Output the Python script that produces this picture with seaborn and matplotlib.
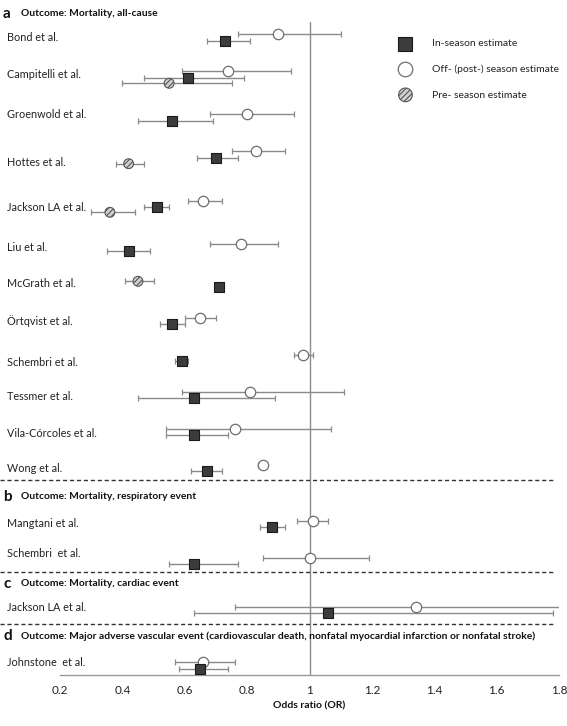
import numpy as np
import pandas as pd
import matplotlib
matplotlib.use("Agg")
import matplotlib.pyplot as plt
import matplotlib.transforms as mtransforms
import seaborn as sns

# ---------------- data ----------------
studies = ["Bond et al.", "Campitelli et al.", "Groenwold et al.", "Hottes et al.",
           "Jackson LA et al.", "Liu et al.", "McGrath et al.", "Örtqvist et al.",
           "Schembri et al.", "Tessmer et al.", "Vila-Córcoles et al.", "Wong et al.",
           "Mangtani et al.", "Schembri  et al.",
           "Jackson LA et al.",
           "Johnstone  et al."]

in_or = [0.73, 0.61, 0.56, 0.70, 0.51, 0.42, 0.71, 0.56, 0.59, 0.63, 0.63, 0.67, 0.88, 0.63, 1.06, 0.65]
in_lo = [0.67, 0.47, 0.45, 0.64, 0.47, 0.35, np.nan, 0.52, 0.57, 0.45, 0.54, 0.62, 0.84, 0.55, 0.63, 0.58]
in_hi = [0.81, 0.79, 0.69, 0.77, 0.55, 0.49, np.nan, 0.60, 0.61, 0.89, 0.74, 0.72, 0.92, 0.77, 1.78, 0.74]

off_or = [0.90, 0.74, 0.80, 0.83, 0.66, 0.78, np.nan, 0.65, 0.98, 0.81, 0.76, 0.85, 1.01, 1.00, 1.34, 0.66]
off_lo = [0.77, 0.59, 0.68, 0.75, 0.61, 0.68, np.nan, 0.60, 0.95, 0.59, 0.54, 0.835, 0.96, 0.85, 0.76, 0.57]
off_hi = [1.10, 0.94, 0.95, 0.92, 0.72, 0.90, np.nan, 0.70, 1.01, 1.11, 1.07, 0.865, 1.06, 1.19, 1.85, 0.76]

pre_or = [np.nan, 0.55, np.nan, 0.42, 0.36, np.nan, 0.45, np.nan, np.nan, np.nan, np.nan, np.nan, np.nan, np.nan, np.nan, np.nan]
pre_lo = [np.nan, 0.40, np.nan, 0.38, 0.30, np.nan, 0.41, np.nan, np.nan, np.nan, np.nan, np.nan, np.nan, np.nan, np.nan, np.nan]
pre_hi = [np.nan, 0.75, np.nan, 0.47, 0.44, np.nan, 0.50, np.nan, np.nan, np.nan, np.nan, np.nan, np.nan, np.nan, np.nan, np.nan]

panel_letters = ["a", "b", "c", "d"]
panel_titles = ["Outcome: Mortality, all-cause",
                "Outcome: Mortality, respiratory event",
                "Outcome: Mortality, cardiac event",
                "Outcome: Major adverse vascular event (cardiovascular death, nonfatal myocardial infarction or nonfatal stroke)"]
series_labels = ["In-season estimate", "Off- (post-) season estimate", "Pre- season estimate"]
x_ticks = [0.2, 0.4, 0.6, 0.8, 1.0, 1.2, 1.4, 1.6, 1.8]
x_ticklabels = ["0.2", "0.4", "0.6", "0.8", "1", "1.2", "1.4", "1.6", "1.8"]
x_label = "Odds ratio (OR)"

# ---------------- layout (pixel rows from top) ----------------
y_off = [34, 71, 114.3, 151, 201, 244, np.nan, 318, 354.7, 391.7, 428.7, 465.3, 520.7, 558, 606.7, 662.3]
y_in = [41, 77.7, 120.7, 157.7, 206.7, 250.7, 287.3, 324, 360.7, 398, 434.7, 471, 527, 564.3, 613.3, 668.7]
y_pre = [np.nan, 83.3, np.nan, 163.7, 212.3, np.nan, 281.3, np.nan, np.nan, np.nan, np.nan, np.nan, np.nan, np.nan, np.nan, np.nan]
label_y = [37.3, 74, 115, 162.3, 207.3, 247.3, 283.3, 321, 362.7, 396.7, 433.3, 468.7, 523.3, 553.3, 607.3, 662.7]
header_y = [14, 496.7, 584, 636]
sep_y = [480, 571.7, 624.3]

sns.set_style("white")
plt.rcParams['font.family'] = ['Lato', 'DejaVu Sans']
plt.rcParams['hatch.linewidth'] = 0.8

W, H = 567, 726
fig = plt.figure(figsize=(W / 100, H / 100), dpi=100)
ax_y0 = 675
ax = fig.add_axes([60 / W, (H - ax_y0) / H, 499 / W, ax_y0 / H])
ax.set_xlim(0.2, 1.8)
ax.set_ylim(ax_y0, 0)

ecol = "#8a8a8a"


def draw_err(x, lo, hi, y):
    x = np.asarray(x, float); lo = np.asarray(lo, float); hi = np.asarray(hi, float); y = np.asarray(y, float)
    m = np.isfinite(x) & np.isfinite(lo) & np.isfinite(hi) & np.isfinite(y)
    ax.errorbar(x[m], y[m], xerr=[x[m] - lo[m], hi[m] - x[m]], fmt='none',
                ecolor=ecol, elinewidth=1.0, capsize=2.2, capthick=0.9, zorder=2)


# reference line at OR = 1
ax.plot([1, 1], [22, ax_y0], color="#8c8c8c", lw=1.0, zorder=1)

draw_err(off_or, off_lo, off_hi, y_off)
draw_err(in_or, in_lo, in_hi, y_in)
draw_err(pre_or, pre_lo, pre_hi, y_pre)

df_in = pd.DataFrame({"OR": in_or, "y": y_in}).dropna()
df_off = pd.DataFrame({"OR": off_or, "y": y_off}).dropna()
df_pre = pd.DataFrame({"OR": pre_or, "y": y_pre}).dropna()

sns.scatterplot(data=df_off, x="OR", y="y", ax=ax, marker="o", s=56, color="white",
                edgecolor="#6e6e6e", linewidth=0.9, zorder=3)
h_off = ax.collections[-1]
sns.scatterplot(data=df_in, x="OR", y="y", ax=ax, marker="s", s=54, color="#3c3c3c",
                edgecolor="#1a1a1a", linewidth=0.8, zorder=4)
h_in = ax.collections[-1]
sns.scatterplot(data=df_pre, x="OR", y="y", ax=ax, marker="o", s=50, color="#d0d0d0",
                edgecolor="#555555", linewidth=0.8, zorder=4)
h_pre = ax.collections[-1]
h_pre.set_hatch("//////")

# axes styling
for side in ["top", "right", "left"]:
    ax.spines[side].set_visible(False)
ax.spines["bottom"].set_color("#9a9a9a")
ax.spines["bottom"].set_linewidth(1.0)
ax.set_xticks(x_ticks)
ax.set_xticklabels(x_ticklabels)
ax.tick_params(axis="x", direction="in", length=3, color="#9a9a9a", labelsize=8.5, pad=7, labelcolor="#222222")
ax.set_yticks([])
ax.set_ylabel("")
ax.set_xlabel(x_label, fontsize=7.5, fontweight="bold", labelpad=4, color="#111111")
ax.set_facecolor("none")

trans = mtransforms.blended_transform_factory(fig.transFigure, ax.transData)

for lab, yy in zip(studies, label_y):
    ax.text(7 / W, yy, lab, transform=trans, fontsize=7.8, va="center", ha="left",
            color="#222222", clip_on=False)

for letter, title, yy in zip(panel_letters, panel_titles, header_y):
    ax.text(3 / W, yy, letter, transform=trans, fontsize=11, fontweight="bold", va="center",
            ha="left", color="#111111", clip_on=False)
    ax.text(21 / W, yy, title, transform=trans, fontsize=7.4, fontweight="bold", va="center",
            ha="left", color="#111111", clip_on=False)

for yy in sep_y:
    ax.plot([0, 554 / W], [yy, yy], transform=trans, color="#333333", lw=1.0,
            linestyle=(0, (3, 2)), clip_on=False, zorder=1)

leg = ax.legend([h_in, h_off, h_pre], series_labels, loc="upper left",
                bbox_to_anchor=(394 / W, 1 - 34 / H), bbox_transform=fig.transFigure,
                frameon=False, fontsize=7.5, markerscale=1.4, labelspacing=1.55,
                handletextpad=1.9, borderpad=0, handlelength=1.2)
for t in leg.get_texts():
    t.set_color("#222222")

fig.savefig("out.png", dpi=100)
